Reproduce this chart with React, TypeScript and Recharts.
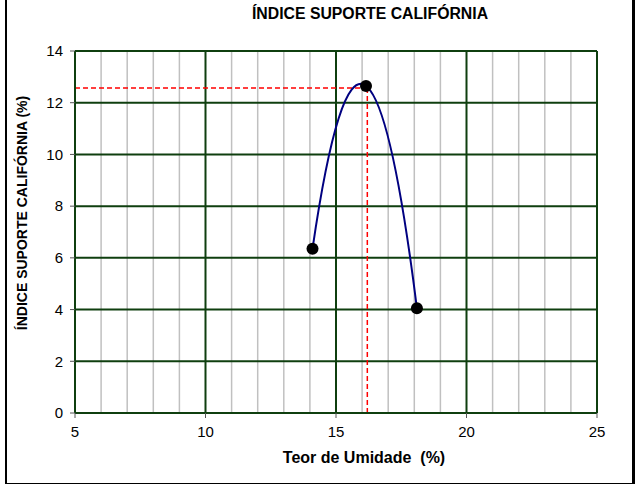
import { ComposedChart, Line, XAxis, YAxis, ReferenceLine } from 'recharts';

const moisture = [14.1, 16.15, 18.1];
const cbr = [6.35, 12.65, 4.05];
const optMoisture = 16.2;
const maxCbr = 12.57;
const xTicks = [5, 10, 15, 20, 25];
const xMinorTicks = [6, 7, 8, 9, 11, 12, 13, 14, 16, 17, 18, 19, 21, 22, 23, 24];
const yTicks = [0, 2, 4, 6, 8, 10, 12, 14];

const data = moisture.map((x, i) => ({ x, y: cbr[i] }));

const GREEN = '#0f3f0f';
const FONT = '"Liberation Sans", Arial, sans-serif';

// 2nd order trendline look: one quadratic bezier through the three points
const parabola = (context: any) => {
	let pts: number[][] = [];
	return {
		areaStart() {},
		areaEnd() {},
		lineStart() {
			pts = [];
		},
		lineEnd() {
			if (pts.length === 3) {
				const [[x0, y0], [x1, y1], [x2, y2]] = pts;
				const d01 = (y1 - y0) / (x1 - x0);
				const d12 = (y2 - y1) / (x2 - x1);
				const a = (d12 - d01) / (x2 - x0);
				const s0 = d01 + a * (x0 - x1);
				const mx = (x0 + x2) / 2;
				context.moveTo(x0, y0);
				context.quadraticCurveTo(mx, y0 + s0 * (mx - x0), x2, y2);
			} else {
				pts.forEach((p, i) => (i ? context.lineTo(p[0], p[1]) : context.moveTo(p[0], p[1])));
			}
		},
		point(x: number, y: number) {
			pts.push([+x, +y]);
		},
	};
};

export default function App() {
	return (
		<div style={{ position: 'absolute', left: 0, top: 0, width: 643, height: 484, background: '#fff', fontFamily: FONT }}>
			<div
				style={{
					position: 'absolute',
					left: 5,
					top: -4,
					width: 625,
					height: 485,
					borderLeft: '2px solid #000',
					borderBottom: '2px solid #000',
					borderRight: '3px solid #000',
					borderTop: '2px solid #000',
				}}
			/>
			<div style={{ position: 'absolute', left: 170, width: 400, top: 5, textAlign: 'center', fontWeight: 'bold', fontSize: 15.8, whiteSpace: 'nowrap' }}>
				ÍNDICE SUPORTE CALIFÓRNIA
			</div>
			<div
				style={{
					position: 'absolute',
					left: 22,
					top: 213,
					width: 0,
					height: 0,
				}}>
				<div
					style={{
						position: 'absolute',
						transform: 'translate(-50%, -50%) rotate(-90deg)',
						whiteSpace: 'nowrap',
						fontWeight: 'bold',
						fontSize: 14,
					}}>
					ÍNDICE SUPORTE CALIFÓRNIA (%)
				</div>
			</div>
			<div style={{ position: 'absolute', left: 164, width: 400, top: 449, textAlign: 'center', fontWeight: 'bold', fontSize: 16, whiteSpace: 'pre' }}>
				{'Teor de Umidade  (%)'}
			</div>
			<ComposedChart width={643} height={484} data={data} margin={{ top: 51, right: 46, left: 30, bottom: 41 }}>
				<XAxis
					type='number'
					dataKey='x'
					domain={[5, 25]}
					ticks={xTicks}
					height={30}
					axisLine={{ stroke: GREEN, strokeWidth: 2 }}
					tickLine={{ stroke: '#555' }}
					tickSize={5}
					tickMargin={8}
					tick={{ fill: '#000', fontSize: 15, fontFamily: FONT }}
				/>
				<YAxis
					type='number'
					domain={[0, 14]}
					ticks={yTicks}
					width={45}
					axisLine={{ stroke: GREEN, strokeWidth: 2 }}
					tickLine={{ stroke: '#555' }}
					tickSize={5}
					tickMargin={7}
					tick={{ fill: '#000', fontSize: 15, fontFamily: FONT }}
				/>
				{xMinorTicks.map((v) => (
					<ReferenceLine key={'m' + v} x={v} stroke='#c0c0c0' strokeWidth={1.5} />
				))}
				{xTicks.map((v) => (
					<ReferenceLine key={'x' + v} x={v} stroke={GREEN} strokeWidth={2} />
				))}
				{yTicks.map((v) => (
					<ReferenceLine key={'y' + v} y={v} stroke={GREEN} strokeWidth={2} />
				))}
				<ReferenceLine
					segment={[
						{ x: 5, y: maxCbr },
						{ x: optMoisture, y: maxCbr },
					]}
					stroke='#ff0000'
					strokeWidth={1.5}
					strokeDasharray='5 3'
				/>
				<ReferenceLine
					segment={[
						{ x: optMoisture, y: maxCbr },
						{ x: optMoisture, y: 0 },
					]}
					stroke='#ff0000'
					strokeWidth={1.5}
					strokeDasharray='5 3'
				/>
				<Line
					dataKey='y'
					type={parabola as any}
					stroke='#000080'
					strokeWidth={2}
					dot={{ r: 6, fill: '#000', stroke: '#000', strokeWidth: 0 }}
					activeDot={false}
					isAnimationActive={false}
				/>
			</ComposedChart>
		</div>
	);
}
